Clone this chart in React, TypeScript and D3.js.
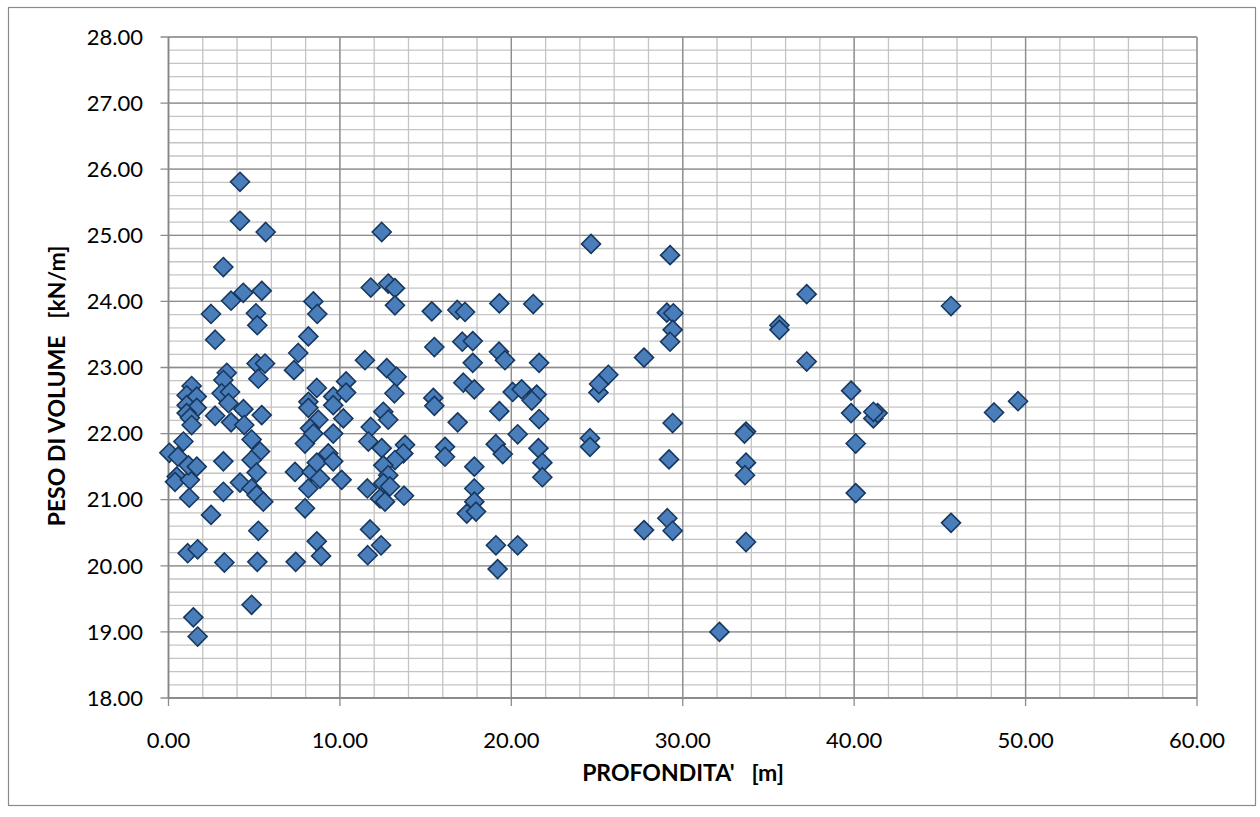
import React from "react";
import * as d3 from "d3";

const depth: number[] = [
  0.05, 0.55, 0.87, 0.48, 0.38, 1.25, 1.16, 1.65, 1.21, 1.12, 1.7, 1.45, 1.7, 1.35, 1.06, 1.65, 1.06, 1.65, 1.06, 1.25, 1.35, 2.48, 2.72, 2.72, 2.48,
  3.2, 3.65, 4.17, 4.17, 5.67, 4.36, 5.44, 5.1, 5.18, 3.4, 3.2, 3.1, 3.59, 3.5, 3.65, 4.37, 4.42, 5.44, 5.14, 5.63, 5.24, 3.2, 3.2, 3.26, 4.85, 5.34, 4.85, 5.14, 4.17, 4.85, 5.14, 5.53, 5.24, 5.18, 4.85,
  7.32, 7.57, 8.16, 8.45, 8.68, 8.65, 8.16, 8.16, 8.74, 8.26, 7.96, 8.45, 7.38, 8.35, 8.84, 8.65, 8.16, 7.96, 7.42, 8.65, 8.9, 9.61, 9.61, 9.61, 9.32, 9.61, 10.36, 10.36, 10.2, 10.1,
  11.46, 11.8, 12.44, 12.82, 13.21, 13.21, 12.73, 13.31, 13.18, 12.53, 12.82, 11.8, 11.66, 12.44, 13.8, 13.7, 13.21, 12.53, 12.82, 12.53, 12.92, 11.6, 12.34, 12.63, 13.74, 11.76, 12.4, 11.62,
  15.36, 15.51, 15.45, 15.51, 16.85, 17.3, 17.14, 17.75, 17.75, 17.2, 17.84, 16.87, 16.13, 16.13, 17.84, 17.84, 17.84, 17.4, 17.94, 19.3, 19.28, 19.63, 19.3, 19.09, 19.5, 19.1, 19.2, 20.08, 20.6, 20.37, 20.37, 21.28, 21.62, 21.48, 21.19, 21.62, 21.58, 21.81, 21.81,
  24.65, 24.59, 24.59, 25.08, 25.12, 25.66, 27.74, 27.74, 29.26, 29.07, 29.45, 29.41, 29.26, 29.41, 29.2, 29.1, 29.41, 32.14,
  33.69, 33.6, 33.69, 33.63, 33.69, 35.64, 35.64, 37.23, 37.23, 39.82, 39.82, 40.09, 40.09, 41.12, 41.37, 41.12, 45.65, 45.65, 48.16, 49.56,
];

const weight: number[] = [
  21.71, 21.65, 21.88, 21.35, 21.27, 21.3, 21.52, 21.5, 21.03, 20.19, 20.25, 19.22, 18.93, 22.72, 22.58, 22.56, 22.43, 22.39, 22.31, 22.24, 22.13, 20.77, 22.27, 23.42, 23.81,
  24.52, 24.01, 25.81, 25.22, 25.05, 24.13, 24.16, 23.82, 23.64, 22.92, 22.81, 22.61, 22.63, 22.46, 22.17, 22.37, 22.13, 22.28, 23.06, 23.06, 22.83, 21.58, 21.12, 20.05, 21.91, 21.73, 21.6, 21.41, 21.26, 21.17, 21.07, 20.97, 20.53, 20.06, 19.41,
  22.96, 23.22, 23.47, 24.0, 23.81, 22.69, 22.48, 22.39, 22.21, 22.08, 21.85, 22.0, 21.42, 21.42, 21.32, 21.56, 21.17, 20.87, 20.06, 20.37, 20.15, 22.56, 22.43, 22.0, 21.7, 21.58, 22.79, 22.62, 22.23, 21.3,
  23.11, 24.21, 25.05, 24.27, 24.2, 23.94, 22.99, 22.86, 22.61, 22.33, 22.21, 22.1, 21.88, 21.78, 21.83, 21.7, 21.6, 21.52, 21.37, 21.25, 21.2, 21.17, 21.02, 20.97, 21.06, 20.55, 20.31, 20.16,
  23.85, 23.31, 22.54, 22.42, 23.87, 23.84, 23.39, 23.4, 23.07, 22.77, 22.67, 22.17, 21.8, 21.65, 21.5, 21.17, 20.97, 20.79, 20.82, 23.97, 23.24, 23.11, 22.34, 21.84, 21.69, 20.31, 19.95, 22.63, 22.67, 21.99, 20.31, 23.96, 23.07, 22.59, 22.5, 22.22, 21.78, 21.56, 21.34,
  24.87, 21.93, 21.8, 22.62, 22.75, 22.89, 23.15, 20.54, 24.7, 23.83, 23.82, 23.57, 23.39, 22.16, 21.61, 20.72, 20.53, 19.0,
  22.03, 22.0, 21.56, 21.37, 20.36, 23.64, 23.57, 24.11, 23.09, 22.65, 22.31, 21.85, 21.1, 22.23, 22.31, 22.33, 23.93, 20.65, 22.32, 22.49,
];

const xTicks: number[] = [0, 10, 20, 30, 40, 50, 60];
const yTicks: number[] = [18, 19, 20, 21, 22, 23, 24, 25, 26, 27, 28];
const xTitle = "PROFONDITA'   [m]";
const yTitle = "PESO DI VOLUME   [kN/m]";

export default function App() {
  const W = 1260;
  const H = 817;
  const left = 168.5;
  const right = 1197;
  const top = 37;
  const bottom = 698;
  const x = d3.scaleLinear().domain([0, 60]).range([left, right]);
  const y = d3.scaleLinear().domain([18, 28]).range([bottom, top]);

  const minorX = d3.range(0, 60.001, 2);
  const minorY = d3.range(18, 28.001, 0.2);
  const font = "Lato, 'Open Sans', sans-serif";
  const ds = 9.5;
  const diamond = `M0,${-ds}L${ds},0L0,${ds}L${-ds},0Z`;
  const pts = depth.map((d, i) => [d, weight[i]]);

  return (
    <svg width={W} height={H} style={{ position: "absolute", left: 0, top: 0, background: "#fff" }}>
      <rect x={8.5} y={7.5} width={1247} height={798} fill="#fff" stroke="#8a8a8a" strokeWidth={1.2} />
      {minorY.map((v, i) => (
        <line key={"my" + i} x1={left} x2={right} y1={y(v)} y2={y(v)} stroke="#c4c4c4" strokeWidth={1.3} />
      ))}
      {minorX.map((v, i) => (
        <line key={"mx" + i} x1={x(v)} x2={x(v)} y1={top} y2={bottom} stroke="#c4c4c4" strokeWidth={1.3} />
      ))}
      {yTicks.map((v) => (
        <line key={"gy" + v} x1={left - 8} x2={right} y1={y(v)} y2={y(v)} stroke="#8c8c8c" strokeWidth={1.3} />
      ))}
      {xTicks.map((v) => (
        <line key={"gx" + v} x1={x(v)} x2={x(v)} y1={top} y2={bottom + 8} stroke="#8c8c8c" strokeWidth={1.3} />
      ))}
      <line x1={left} x2={right} y1={bottom} y2={bottom} stroke="#868686" strokeWidth={1.6} />
      <line x1={left} x2={left} y1={top} y2={bottom} stroke="#868686" strokeWidth={1.6} />
      {yTicks.map((v) => (
        <text key={"ty" + v} x={143} y={y(v)} dy="0.35em" textAnchor="end" fontFamily={font} fontSize={22} fill="#000">
          {v.toFixed(2)}
        </text>
      ))}
      {xTicks.map((v) => (
        <text key={"tx" + v} x={x(v)} y={740} dy="0.35em" textAnchor="middle" fontFamily={font} fontSize={22} fill="#000">
          {v.toFixed(2)}
        </text>
      ))}
      <text x={683} y={773} dy="0.35em" textAnchor="middle" fontFamily={font} fontSize={23} fontWeight="bold" fill="#000" style={{ whiteSpace: "pre" }}>
        {xTitle}
      </text>
      <text
        transform={`translate(57,386) rotate(-90)`}
        dy="0.35em"
        textAnchor="middle"
        fontFamily={font}
        fontSize={23}
        fontWeight="bold"
        fill="#000"
        style={{ whiteSpace: "pre" }}
      >
        {yTitle}
      </text>
      {pts.map((p, i) => (
        <path
          key={"p" + i}
          d={diamond}
          transform={`translate(${x(p[0])},${y(p[1])})`}
          fill="#4a7ebb"
          stroke="#17375e"
          strokeWidth={1.6}
        />
      ))}
    </svg>
  );
}
